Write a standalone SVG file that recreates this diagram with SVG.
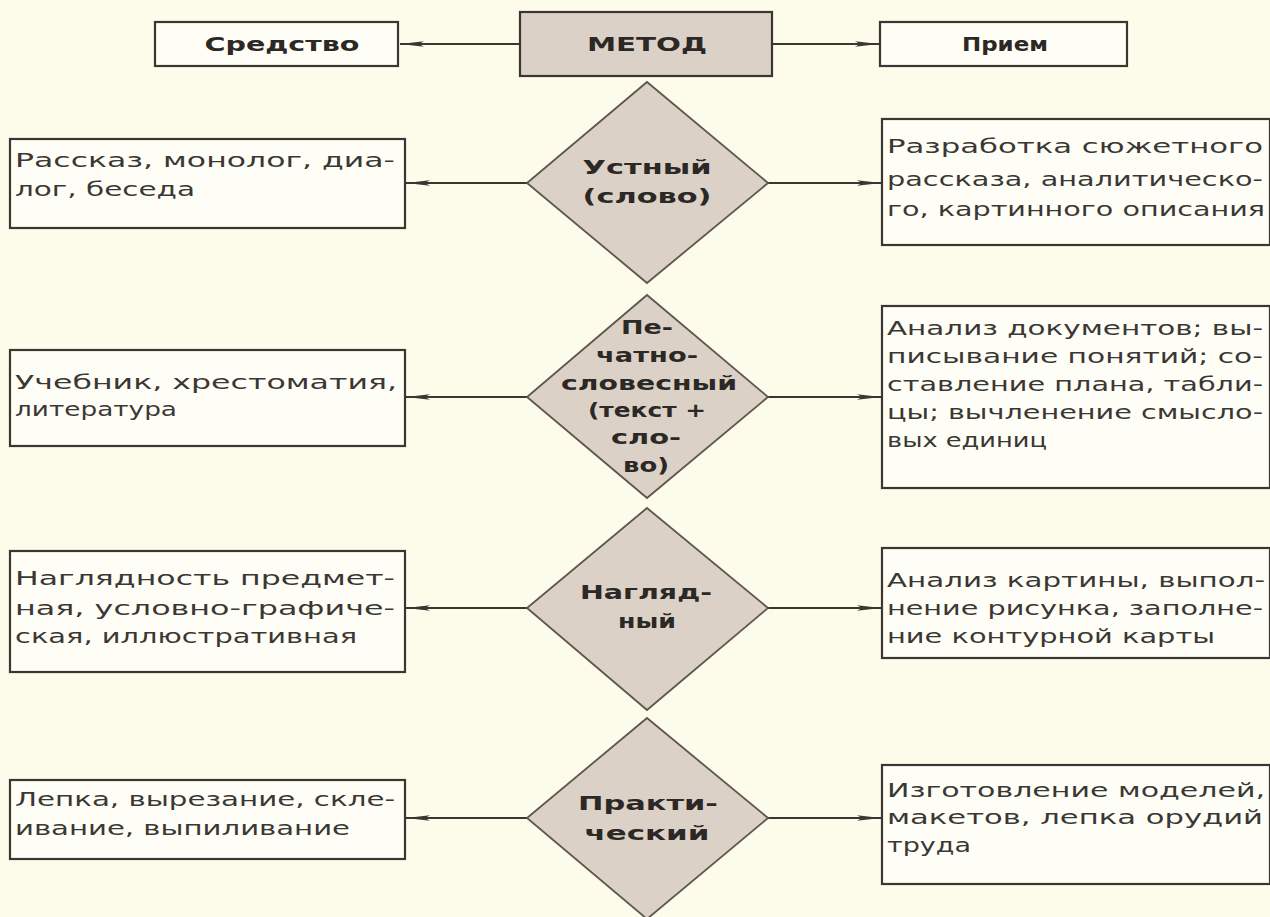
<svg xmlns="http://www.w3.org/2000/svg" width="1270" height="917" viewBox="0 0 1270 917">
<style>
.bg{fill:#fdfbea}
.box{fill:#fffef6;stroke:#3b3631;stroke-width:2.2}
.dia{fill:#dbd1c7;stroke:#5e554c;stroke-width:1.8}
.mbox{fill:#dbd1c7;stroke:#3b3631;stroke-width:2.2}
.t{font-family:"DejaVu Sans","Noto Sans",sans-serif;font-size:19px;fill:#3a3835}
.b{font-family:"DejaVu Sans","Noto Sans",sans-serif;font-size:19px;font-weight:bold;fill:#2b2825;text-anchor:middle}
.c{stroke:#3b3631;stroke-width:2;fill:none}
</style>
<defs>
<marker id="ah" viewBox="0 0 24 8" refX="24" refY="4" markerWidth="24" markerHeight="8" markerUnits="userSpaceOnUse" orient="auto">
<path d="M0,1.2 L24,4 L0,6.8 L5,4 Z" fill="#3b3631"/>
</marker>
</defs>
<rect class="bg" x="0" y="0" width="1270" height="917"/>

<g id="connectors">
<line class="c" x1="520" y1="44" x2="400" y2="44" marker-end="url(#ah)"/>
<line class="c" x1="772" y1="44" x2="879" y2="44" marker-end="url(#ah)"/>
<line class="c" x1="527" y1="183" x2="406" y2="183" marker-end="url(#ah)"/>
<line class="c" x1="768" y1="183" x2="881" y2="183" marker-end="url(#ah)"/>
<line class="c" x1="527" y1="397" x2="406" y2="397" marker-end="url(#ah)"/>
<line class="c" x1="768" y1="397" x2="881" y2="397" marker-end="url(#ah)"/>
<line class="c" x1="527" y1="608" x2="406" y2="608" marker-end="url(#ah)"/>
<line class="c" x1="768" y1="608" x2="881" y2="608" marker-end="url(#ah)"/>
<line class="c" x1="527" y1="818" x2="406" y2="818" marker-end="url(#ah)"/>
<line class="c" x1="768" y1="818" x2="881" y2="818" marker-end="url(#ah)"/>
</g>

<g id="sredstvo">
<rect class="box" x="155" y="22" width="243" height="44"/>
<text class="b" x="282" y="51" textLength="155" lengthAdjust="spacingAndGlyphs">Средство</text>
</g>
<g id="metod">
<rect class="mbox" x="520" y="12" width="252" height="64"/>
<text class="b" x="647" y="51" textLength="120" lengthAdjust="spacingAndGlyphs">МЕТОД</text>
</g>
<g id="priem">
<rect class="box" x="880" y="22" width="247" height="44"/>
<text class="b" x="1005" y="51" textLength="86" lengthAdjust="spacingAndGlyphs">Прием</text>
</g>

<g id="d1">
<polygon class="dia" points="647,82 768,183 647,283 527,183"/>
<text class="b" x="647" y="174" textLength="129" lengthAdjust="spacingAndGlyphs">Устный</text>
<text class="b" x="647" y="203" textLength="129" lengthAdjust="spacingAndGlyphs">(слово)</text>
</g>
<g id="d2">
<polygon class="dia" points="647,295 768,397 647,498 527,397"/>
<text class="b" x="647" y="334" textLength="52" lengthAdjust="spacingAndGlyphs">Пе-</text>
<text class="b" x="647" y="362" textLength="102" lengthAdjust="spacingAndGlyphs">чатно-</text>
<text class="b" x="649" y="390" textLength="176" lengthAdjust="spacingAndGlyphs">словесный</text>
<text class="b" x="647" y="417" textLength="118" lengthAdjust="spacingAndGlyphs">(текст +</text>
<text class="b" x="646" y="444" textLength="70" lengthAdjust="spacingAndGlyphs">сло-</text>
<text class="b" x="646" y="472" textLength="46" lengthAdjust="spacingAndGlyphs">во)</text>
</g>
<g id="d3">
<polygon class="dia" points="647,508 768,608 647,710 527,608"/>
<text class="b" x="646" y="599" textLength="132" lengthAdjust="spacingAndGlyphs">Нагляд-</text>
<text class="b" x="647" y="628" textLength="58" lengthAdjust="spacingAndGlyphs">ный</text>
</g>
<g id="d4">
<polygon class="dia" points="647,718 768,818 647,919 527,818"/>
<text class="b" x="648" y="810" textLength="140" lengthAdjust="spacingAndGlyphs">Практи-</text>
<text class="b" x="647" y="840" textLength="125" lengthAdjust="spacingAndGlyphs">ческий</text>
</g>

<g id="l1">
<rect class="box" x="10" y="139" width="395" height="89"/>
<text class="t" x="15" y="167" textLength="380" lengthAdjust="spacingAndGlyphs">Рассказ, монолог, диа-</text>
<text class="t" x="15" y="196" textLength="180" lengthAdjust="spacingAndGlyphs">лог, беседа</text>
</g>
<g id="r1">
<rect class="box" x="882" y="119" width="388" height="126"/>
<text class="t" x="887" y="153" textLength="376" lengthAdjust="spacingAndGlyphs">Разработка сюжетного</text>
<text class="t" x="887" y="186" textLength="376" lengthAdjust="spacingAndGlyphs">рассказа, аналитическо-</text>
<text class="t" x="887" y="216" textLength="378" lengthAdjust="spacingAndGlyphs">го, картинного описания</text>
</g>

<g id="l2">
<rect class="box" x="10" y="350" width="395" height="96"/>
<text class="t" x="15" y="389" textLength="382" lengthAdjust="spacingAndGlyphs">Учебник, хрестоматия,</text>
<text class="t" x="15" y="416" textLength="162" lengthAdjust="spacingAndGlyphs">литература</text>
</g>
<g id="r2">
<rect class="box" x="882" y="306" width="388" height="182"/>
<text class="t" x="887" y="335" textLength="376" lengthAdjust="spacingAndGlyphs">Анализ документов; вы-</text>
<text class="t" x="887" y="363" textLength="376" lengthAdjust="spacingAndGlyphs">писывание понятий; со-</text>
<text class="t" x="887" y="391" textLength="376" lengthAdjust="spacingAndGlyphs">ставление плана, табли-</text>
<text class="t" x="887" y="419" textLength="376" lengthAdjust="spacingAndGlyphs">цы; вычленение смысло-</text>
<text class="t" x="887" y="447" textLength="160" lengthAdjust="spacingAndGlyphs">вых единиц</text>
</g>

<g id="l3">
<rect class="box" x="10" y="551" width="395" height="121"/>
<text class="t" x="15" y="585" textLength="380" lengthAdjust="spacingAndGlyphs">Наглядность предмет-</text>
<text class="t" x="15" y="615" textLength="380" lengthAdjust="spacingAndGlyphs">ная, условно-графиче-</text>
<text class="t" x="15" y="643" textLength="342" lengthAdjust="spacingAndGlyphs">ская, иллюстративная</text>
</g>
<g id="r3">
<rect class="box" x="882" y="548" width="388" height="110"/>
<text class="t" x="887" y="587" textLength="378" lengthAdjust="spacingAndGlyphs">Анализ картины, выпол-</text>
<text class="t" x="887" y="615" textLength="376" lengthAdjust="spacingAndGlyphs">нение рисунка, заполне-</text>
<text class="t" x="887" y="643" textLength="328" lengthAdjust="spacingAndGlyphs">ние контурной карты</text>
</g>

<g id="l4">
<rect class="box" x="10" y="780" width="395" height="79"/>
<text class="t" x="15" y="806" textLength="380" lengthAdjust="spacingAndGlyphs">Лепка, вырезание, скле-</text>
<text class="t" x="15" y="835" textLength="335" lengthAdjust="spacingAndGlyphs">ивание, выпиливание</text>
</g>
<g id="r4">
<rect class="box" x="882" y="765" width="388" height="119"/>
<text class="t" x="887" y="797" textLength="378" lengthAdjust="spacingAndGlyphs">Изготовление моделей,</text>
<text class="t" x="887" y="824" textLength="376" lengthAdjust="spacingAndGlyphs">макетов, лепка орудий</text>
<text class="t" x="887" y="852" textLength="84" lengthAdjust="spacingAndGlyphs">труда</text>
</g>
</svg>
